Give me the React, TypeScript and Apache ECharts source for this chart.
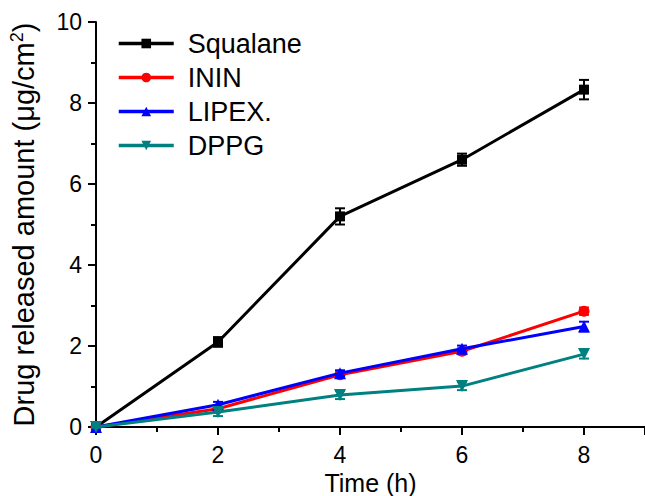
import React, { useEffect, useRef } from "react";
import * as echarts from "echarts";

const times = [0, 2, 4, 6, 8];
const squalane = [0, 2.1, 5.2, 6.6, 8.33];
const squalaneErr = [0.03, 0.12, 0.2, 0.15, 0.24];
const inin = [0, 0.45, 1.29, 1.87, 2.86];
const ininErr = [0.02, 0.05, 0.06, 0.07, 0.09];
const lipex = [0, 0.55, 1.33, 1.93, 2.48];
const lipexErr = [0.02, 0.07, 0.07, 0.08, 0.12];
const dppg = [0, 0.37, 0.79, 1.01, 1.8];
const dppgErr = [0.02, 0.1, 0.1, 0.1, 0.11];

const names = ["Squalane", "ININ", "LIPEX.", "DPPG"];
const colors = ["#000000", "#ff0000", "#0000ff", "#008080"];
const symbols = ["rect", "circle", "triangle", "path://M0,0 L10,0 L5,9 Z"];
const sizes = [10, 11, 12, 12];
const values = [squalane, inin, lipex, dppg];
const errors = [squalaneErr, ininErr, lipexErr, dppgErr];

export default function App() {
  const ref = useRef<HTMLDivElement>(null);
  useEffect(() => {
    const chart = echarts.init(ref.current!, null, { renderer: "svg" });
    const font = "Liberation Sans, Arial, sans-serif";
    const series: any[] = [];
    values.forEach((vals, i) => {
      series.push({
        name: names[i],
        type: "line",
        data: times.map((t, k) => [t, vals[k]]),
        symbol: symbols[i],
        symbolSize: sizes[i],
        lineStyle: { color: colors[i], width: 3 },
        itemStyle: { color: colors[i] },
        z: 3 + i,
      });
      series.push({
        type: "custom",
        data: times.map((t, k) => [t, vals[k], errors[i][k]]),
        z: 3 + i,
        renderItem: (params: any, api: any) => {
          const x = api.value(0);
          const y = api.value(1);
          const e = api.value(2);
          const hi = api.coord([x, y + e]);
          const lo = api.coord([x, y - e]);
          const w = 5;
          const st = { stroke: colors[i], lineWidth: 2 };
          return {
            type: "group",
            children: [
              { type: "line", shape: { x1: hi[0], y1: hi[1], x2: lo[0], y2: lo[1] }, style: st },
              { type: "line", shape: { x1: hi[0] - w, y1: hi[1], x2: hi[0] + w, y2: hi[1] }, style: st },
              { type: "line", shape: { x1: lo[0] - w, y1: lo[1], x2: lo[0] + w, y2: lo[1] }, style: st },
            ],
          };
        },
      });
    });
    chart.setOption({
      animation: false,
      grid: { left: 96, right: 0, top: 22, bottom: 69, containLabel: false, outerBoundsMode: "none" },
      legend: {
        data: names,
        orient: "vertical",
        left: 112,
        top: 25,
        itemWidth: 55,
        itemHeight: 12,
        itemGap: 7,
        lineStyle: { width: 3.5 },
        textStyle: {
          fontFamily: font,
          fontSize: 27,
          lineHeight: 27,
          color: "#000",
          padding: [0, 0, 0, 9],
        },
      },
      xAxis: {
        type: "value",
        min: 0,
        max: 9,
        interval: 2,
        name: "Time (h)",
        nameLocation: "middle",
        nameGap: 41,
        nameTextStyle: { fontFamily: font, fontSize: 25, color: "#000" },
        axisLine: { lineStyle: { color: "#000", width: 2 } },
        axisTick: { inside: false, length: 8, lineStyle: { color: "#000", width: 2 } },
        minorTick: { show: true, splitNumber: 2, length: 5, lineStyle: { color: "#000", width: 2 } },
        axisLabel: {
          fontFamily: font,
          fontSize: 23,
          color: "#000",
          margin: 16,
          formatter: (v: number) => (v <= 8 ? String(v) : ""),
        },
        splitLine: { show: false },
      },
      yAxis: {
        type: "value",
        min: 0,
        max: 10,
        interval: 2,
        name: "Drug released amount (μg/cm{sup|2})",
        nameLocation: "middle",
        nameGap: 56,
        nameTextStyle: {
          fontFamily: font,
          fontSize: 29,
          color: "#000",
          rich: { sup: { fontFamily: font, fontSize: 18, verticalAlign: "top", padding: [0, 0, 14, 0] } },
        },
        axisLine: { show: true, lineStyle: { color: "#000", width: 2 } },
        axisTick: { show: true, inside: false, length: 8, lineStyle: { color: "#000", width: 2 } },
        minorTick: { show: true, splitNumber: 2, length: 5, lineStyle: { color: "#000", width: 2 } },
        axisLabel: { fontFamily: font, fontSize: 23, color: "#000", margin: 14 },
        splitLine: { show: false },
      },
      series,
    });
    return () => chart.dispose();
  }, []);
  return <div ref={ref} style={{ width: 645, height: 496, position: "absolute", left: 0, top: 0 }} />;
}
